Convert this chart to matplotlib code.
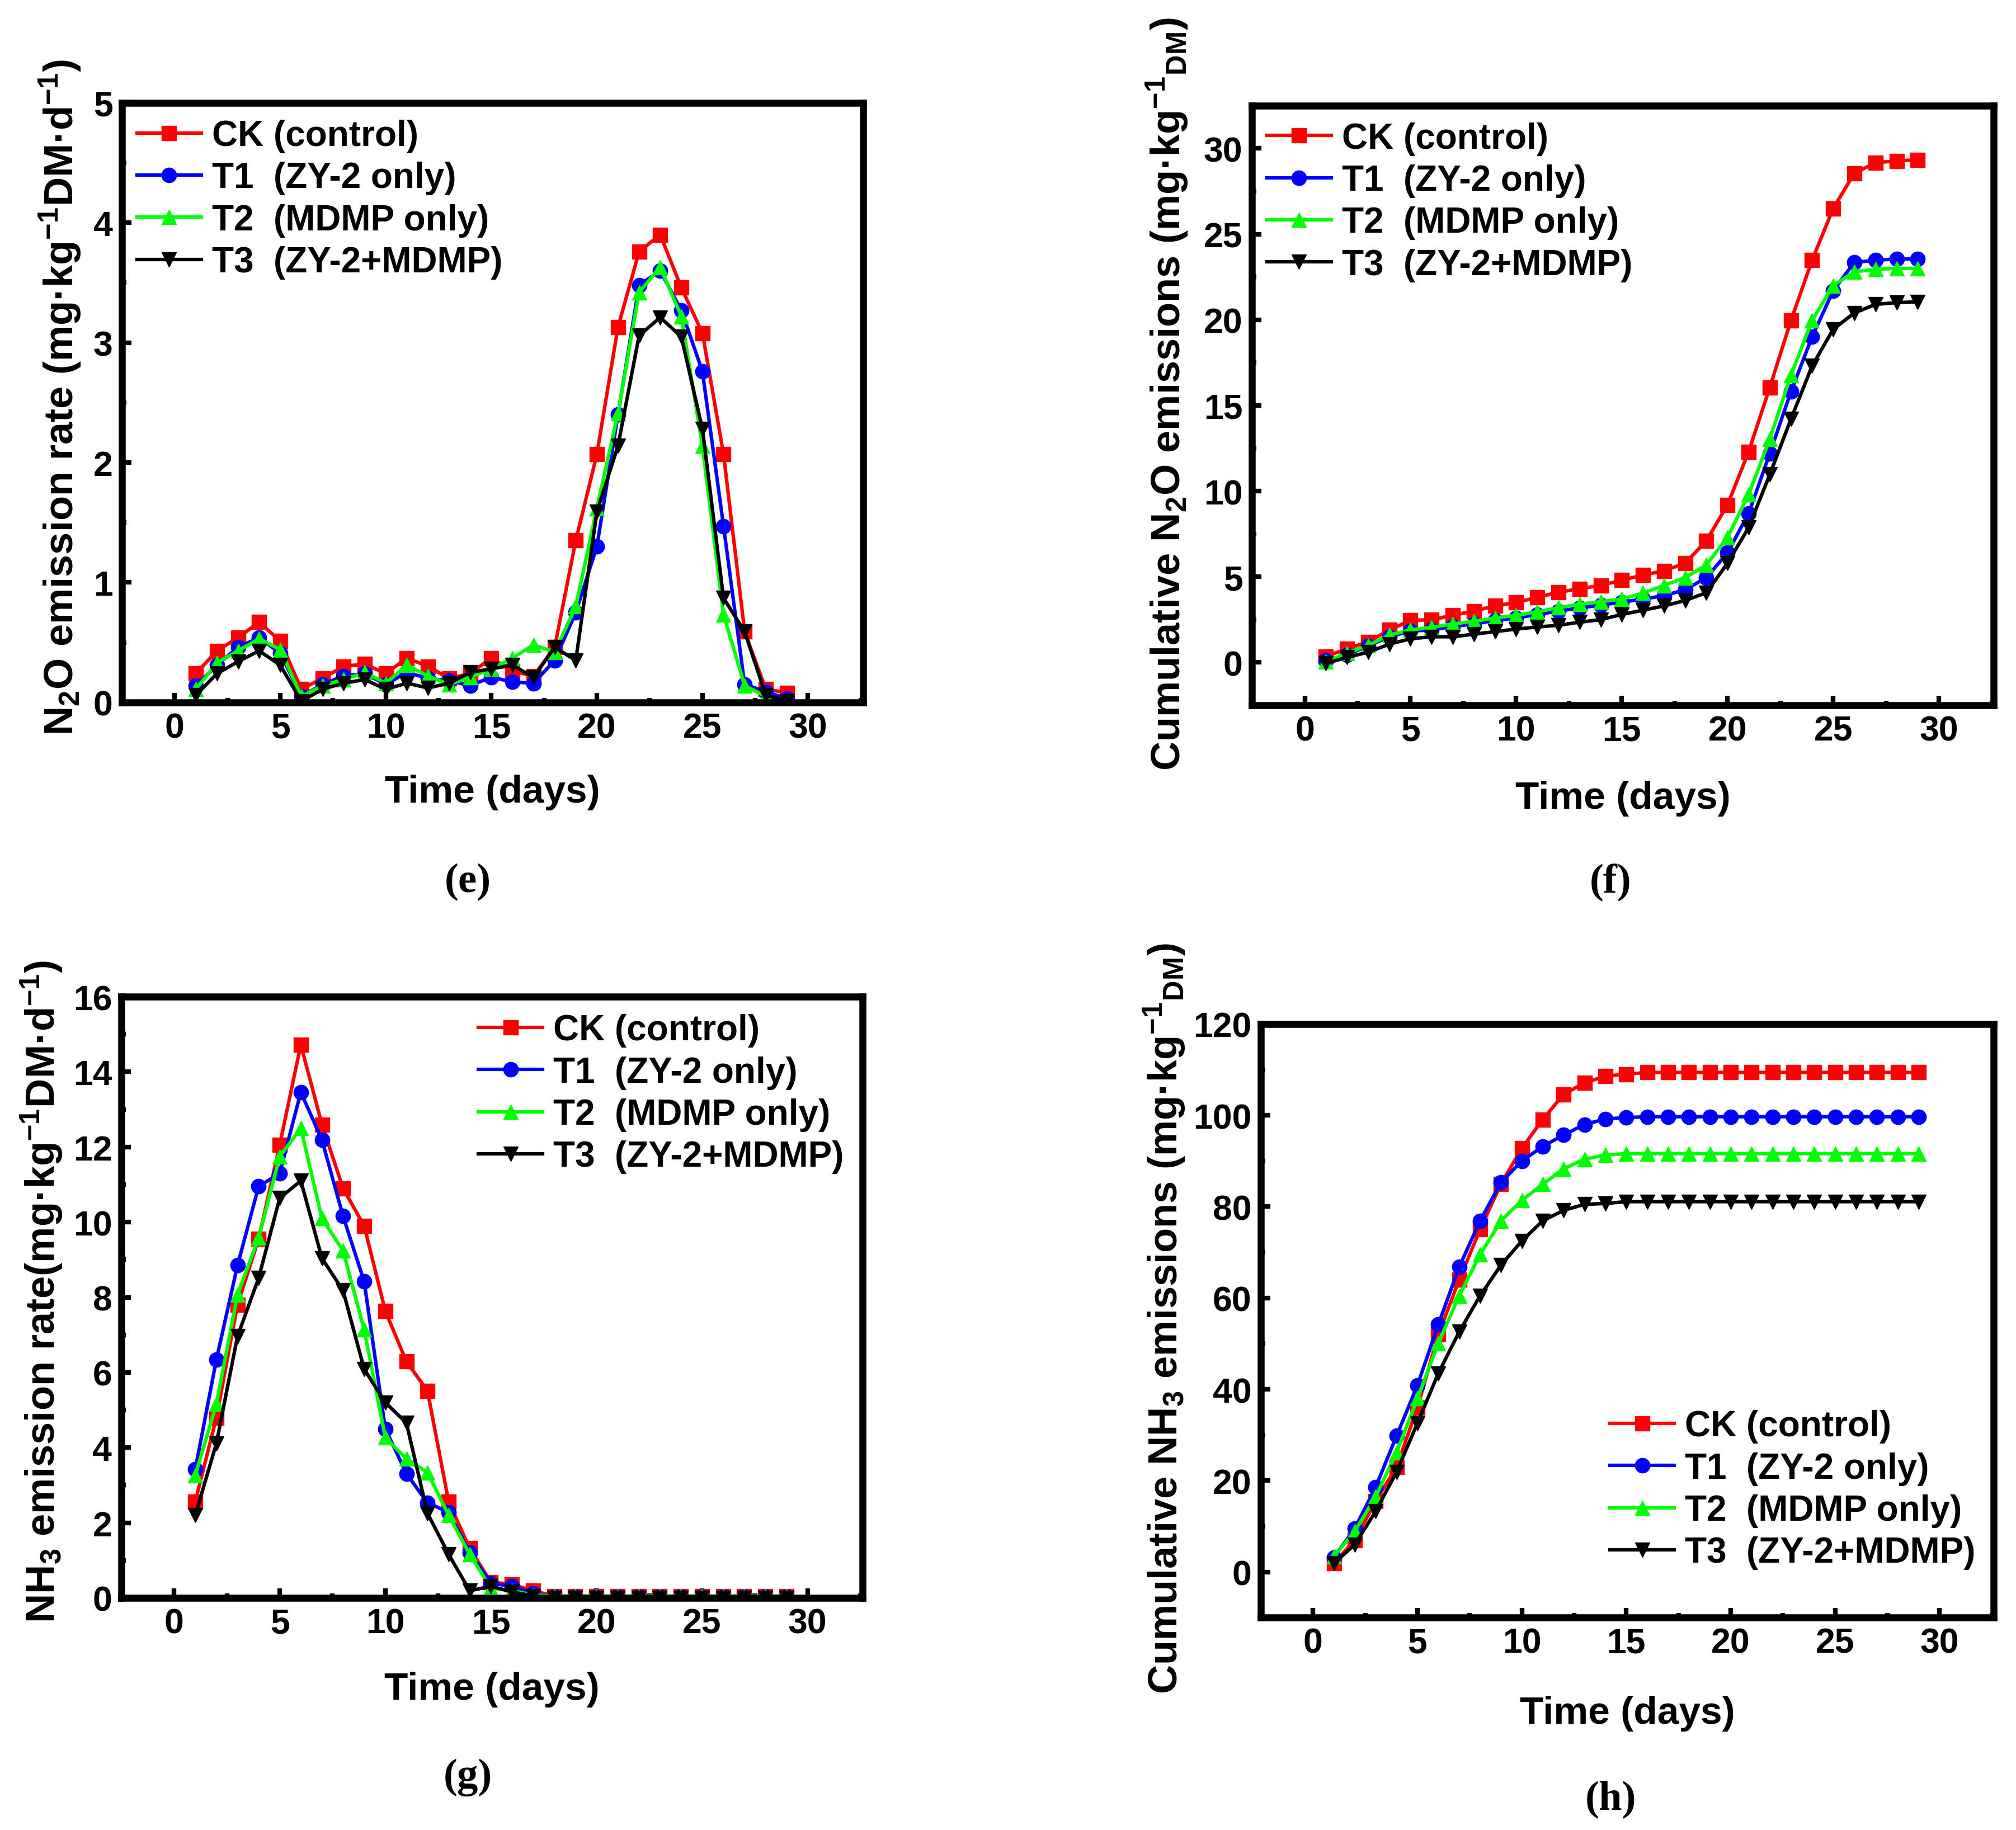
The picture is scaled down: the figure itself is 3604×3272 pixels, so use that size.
import numpy as np
import matplotlib
matplotlib.use('Agg')
import matplotlib.pyplot as plt
from matplotlib.ticker import MultipleLocator

plt.rcParams['font.family'] = ['Liberation Sans', 'DejaVu Sans']
plt.rcParams['font.weight'] = 'bold'
plt.rcParams['mathtext.fontset'] = 'custom'
plt.rcParams['mathtext.rm'] = 'Liberation Sans:bold'
plt.rcParams['mathtext.bf'] = 'Liberation Sans:bold'
plt.rcParams['mathtext.default'] = 'rm'

days = np.arange(1, 30)

# (e) N2O emission rate
n2o_ck = [0.24, 0.43, 0.54, 0.67, 0.51, 0.11, 0.20, 0.30, 0.32, 0.24, 0.37, 0.30, 0.20, 0.24, 0.37,
          0.26, 0.22, 0.46, 1.35, 2.07, 3.13, 3.76, 3.90, 3.46, 3.08, 2.07, 0.59, 0.11, 0.08]
n2o_t1 = [0.14, 0.31, 0.46, 0.54, 0.41, 0.05, 0.15, 0.22, 0.24, 0.15, 0.25, 0.20, 0.18, 0.14, 0.21,
          0.17, 0.16, 0.35, 0.75, 1.30, 2.40, 3.48, 3.60, 3.27, 2.76, 1.47, 0.15, 0.09, 0.03]
n2o_t2 = [0.11, 0.33, 0.43, 0.53, 0.44, 0.05, 0.14, 0.19, 0.25, 0.16, 0.31, 0.22, 0.15, 0.21, 0.28,
          0.37, 0.48, 0.42, 0.80, 1.62, 2.41, 3.42, 3.63, 3.22, 2.14, 0.73, 0.14, 0.05, 0.01]
n2o_t3 = [0.06, 0.24, 0.34, 0.43, 0.31, 0.01, 0.11, 0.16, 0.19, 0.11, 0.16, 0.12, 0.16, 0.25, 0.28,
          0.31, 0.21, 0.46, 0.35, 1.59, 2.14, 3.06, 3.21, 3.05, 2.28, 0.87, 0.59, 0.06, 0.01]

# (f) cumulative N2O
cn2o_ck = [0.35, 0.80, 1.20, 1.90, 2.45, 2.50, 2.75, 3.00, 3.30, 3.50, 3.80, 4.10, 4.30, 4.50, 4.80,
           5.10, 5.35, 5.80, 7.10, 9.20, 12.30, 16.05, 19.95, 23.47, 26.50, 28.55, 29.17, 29.27, 29.34]
cn2o_t1 = [0.10, 0.45, 0.97, 1.50, 1.83, 1.90, 2.10, 2.25, 2.45, 2.60, 2.80, 3.00, 3.18, 3.35, 3.52,
           3.70, 3.90, 4.25, 4.95, 6.40, 8.70, 12.20, 15.80, 19.00, 21.70, 23.35, 23.47, 23.55, 23.55]
cn2o_t2 = [0.05, 0.55, 1.00, 1.60, 1.90, 2.05, 2.25, 2.40, 2.60, 2.75, 2.95, 3.20, 3.40, 3.55, 3.70,
           4.05, 4.50, 4.95, 5.70, 7.30, 9.80, 13.05, 16.75, 19.95, 22.00, 22.80, 22.95, 23.00, 23.00]
cn2o_t3 = [-0.05, 0.30, 0.60, 1.07, 1.38, 1.50, 1.50, 1.65, 1.80, 1.95, 2.07, 2.17, 2.35, 2.50, 2.80,
           3.05, 3.30, 3.62, 4.07, 5.80, 7.87, 10.97, 14.20, 17.30, 19.45, 20.40, 20.90, 21.00, 21.05]

# (g) NH3 emission rate
nh3_ck = [2.56, 4.80, 7.80, 9.55, 12.06, 14.72, 12.60, 10.90, 9.90, 7.64, 6.29, 5.51, 2.56, 1.32, 0.42,
          0.36, 0.19, 0.05, 0.04, 0.04, 0.04, 0.04, 0.04, 0.04, 0.04, 0.04, 0.04, 0.04, 0.04]
nh3_t1 = [3.42, 6.34, 8.85, 10.95, 11.30, 13.46, 12.19, 10.16, 8.42, 4.50, 3.31, 2.53, 2.28, 1.21, 0.39,
          0.31, 0.12, 0.03, 0.03, 0.03, 0.03, 0.03, 0.03, 0.03, 0.03, 0.03, 0.03, 0.03, 0.03]
nh3_t2 = [3.26, 5.16, 8.07, 9.58, 11.75, 12.50, 10.10, 9.24, 7.14, 4.27, 3.70, 3.34, 2.20, 1.16, 0.26,
          0.19, 0.08, 0.05, 0.05, 0.05, 0.05, 0.05, 0.05, 0.05, 0.05, 0.05, 0.05, 0.05, 0.05]
nh3_t3 = [2.20, 4.11, 6.96, 8.51, 10.64, 11.10, 9.04, 8.18, 6.09, 5.20, 4.66, 2.25, 1.16, 0.19, 0.31,
          0.16, 0.05, 0.0, 0.0, 0.0, 0.0, 0.0, 0.0, 0.0, 0.0, 0.0, 0.0, 0.0, 0.0]

# (h) cumulative NH3
cnh3_ck = [1.9, 7.0, 15.5, 23.0, 36.0, 52.0, 64.0, 75.0, 85.0, 92.8, 99.1, 104.6, 107.1, 108.6, 109.0,
           109.4, 109.4, 109.4, 109.4, 109.4, 109.4, 109.4, 109.4, 109.4, 109.4, 109.4, 109.4, 109.4, 109.4]
cnh3_t1 = [3.2, 9.5, 18.6, 29.8, 40.9, 54.2, 66.8, 76.9, 85.3, 90.0, 93.2, 95.7, 98.0, 99.2, 99.5,
           99.7, 99.7, 99.7, 99.7, 99.7, 99.7, 99.7, 99.7, 99.7, 99.7, 99.7, 99.7, 99.7, 99.7]
cnh3_t2 = [3.4, 8.9, 16.5, 26.2, 38.0, 50.1, 60.5, 69.5, 76.9, 81.4, 84.9, 88.3, 90.4, 91.3, 91.6,
           91.6, 91.6, 91.6, 91.6, 91.6, 91.6, 91.6, 91.6, 91.6, 91.6, 91.6, 91.6, 91.6, 91.6]
cnh3_t3 = [1.9, 6.0, 13.3, 21.9, 32.6, 43.5, 52.6, 60.5, 67.2, 72.5, 76.9, 79.2, 80.5, 80.7, 81.1,
           81.1, 81.1, 81.1, 81.1, 81.1, 81.1, 81.1, 81.1, 81.1, 81.1, 81.1, 81.1, 81.1, 81.1]

labels = ['CK (control)', 'T1  (ZY-2 only)', 'T2  (MDMP only)', 'T3  (ZY-2+MDMP)']
colors = ['#ff0000', '#0000ff', '#00ff00', '#000000']
markers = ['s', 'o', '^', 'v']

fig = plt.figure(figsize=(36.04, 32.73), dpi=100)

panels = [
    # rect, series, ylim, major, minor, ylabel, ylabel coords, xlabel y, legend, tag
    ([0.0605, 0.616, 0.3675, 0.3275], [n2o_ck, n2o_t1, n2o_t2, n2o_t3], (0, 5), 1, 0.5,
     r'N$_2$O emission rate (mg·kg$^{-1}$DM·d$^{-1}$)', (-0.052, 0.51), -0.12,
     dict(loc='upper left', bbox_to_anchor=(0.02, 0.973)), '(e)', (0.232, 0.518)),
    ([0.621, 0.6144, 0.368, 0.3276], [cn2o_ck, cn2o_t1, cn2o_t2, cn2o_t3], (-2.5, 32.5), 5, 2.5,
     r'Cumulative N$_2$O emissions (mg·kg$^{-1}$$_{DM}$)', (-0.083, 0.52), -0.125,
     dict(loc='upper left', bbox_to_anchor=(0.02, 0.973)), '(f)', (0.799, 0.518)),
    ([0.0602, 0.1268, 0.3676, 0.3284], [nh3_ck, nh3_t1, nh3_t2, nh3_t3], (0, 16), 2, 1,
     r'NH$_3$ emission rate(mg·kg$^{-1}$DM·d$^{-1}$)', (-0.076, 0.51), -0.122,
     dict(loc='upper right', bbox_to_anchor=(0.975, 0.972)), '(g)', (0.232, 0.029)),
    ([0.6254, 0.116, 0.3636, 0.3243], [cnh3_ck, cnh3_t1, cnh3_t2, cnh3_t3], (-10, 120), 20, 10,
     r'Cumulative NH$_3$ emissions (mg·kg$^{-1}$$_{DM}$)', (-0.10, 0.505), -0.131,
     dict(loc='lower right', bbox_to_anchor=(0.975, 0.081)), '(h)', (0.799, 0.017)),
]

for rect, series, ylim, major, minor, ylabel, ylc, xly, leg, tag, tagpos in panels:
    ax = fig.add_axes(rect)
    for vals, lab, c, m in zip(series, labels, colors, markers):
        ax.plot(days, vals, color=c, marker=m, lw=4.5, ms=19, label=lab)
    ax.set_xlim(-2.5, 32.6)
    ax.set_ylim(*ylim)
    ax.xaxis.set_major_locator(MultipleLocator(5))
    ax.xaxis.set_minor_locator(MultipleLocator(2.5))
    ax.yaxis.set_major_locator(MultipleLocator(major))
    ax.yaxis.set_minor_locator(MultipleLocator(minor))
    ax.tick_params(which='major', direction='in', length=12, width=6, labelsize=45, pad=12)
    ax.tick_params(which='minor', direction='in', length=6, width=6)
    for s in ax.spines.values():
        s.set_linewidth(9)
    ax.set_xlabel('Time (days)', fontsize=50, fontweight='bold')
    ax.xaxis.set_label_coords(0.5, xly)
    ax.set_ylabel(ylabel, fontsize=52, fontweight='bold')
    ax.yaxis.set_label_coords(*ylc)
    ax.legend(frameon=False, fontsize=46, handlelength=1.8, handletextpad=0.3,
              labelspacing=0.24, borderpad=0, borderaxespad=0, **leg)
    fig.text(tagpos[0], tagpos[1], tag, fontsize=54, family=['Liberation Serif', 'DejaVu Serif'],
             fontweight='bold', ha='center', va='center')

fig.savefig('out.png', dpi=100)
